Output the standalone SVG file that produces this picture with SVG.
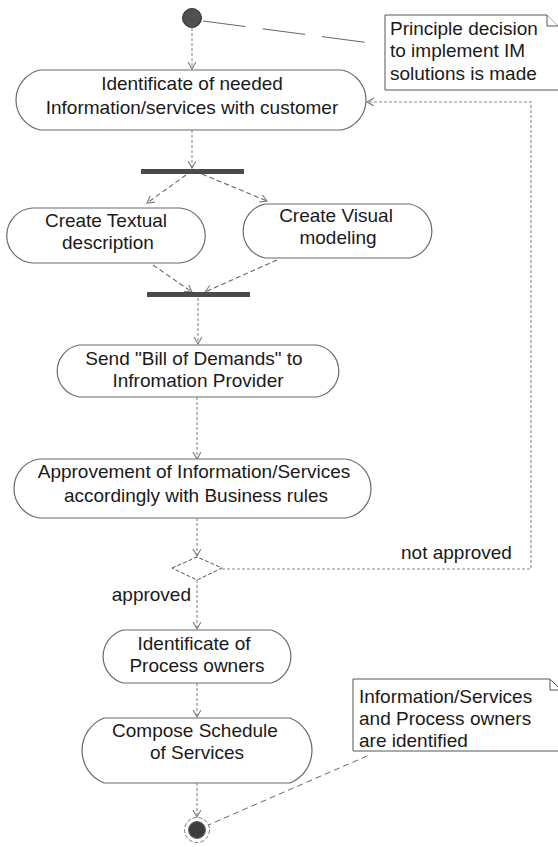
<svg xmlns="http://www.w3.org/2000/svg" width="558" height="847" viewBox="0 0 558 847">
<style>
  text { font-family: "Liberation Sans", Arial, sans-serif; font-size: 19px; fill: #1a1a1a; }
  .c { text-anchor: middle; }
  .act { fill: #fff; stroke: #6a6a6a; stroke-width: 1.2; }
  .bar { fill: #4a4a4a; }
  .note { fill: #fff; stroke: #555; stroke-width: 1; }
  .flow { fill: none; stroke: #8a8a8a; stroke-width: 1.1; stroke-dasharray: 3 2; }
  .dash { fill: none; stroke: #666; stroke-width: 1.1; stroke-dasharray: 5 3; }
  .anchor { fill: none; stroke: #666; stroke-width: 1; }
</style>
<defs>
  <marker id="arr" markerUnits="userSpaceOnUse" markerWidth="10" markerHeight="10" refX="7" refY="4" orient="auto">
    <path d="M0,0 L7,4 L0,8" fill="none" stroke="#777" stroke-width="1.1"/>
  </marker>
</defs>

<g id="connectors">
  <path class="flow" d="M192,28 V69" marker-end="url(#arr)"/>
  <path class="flow" d="M192,130 V168" marker-end="url(#arr)"/>
  <path class="dash" d="M186,175 L147,203" marker-end="url(#arr)"/>
  <path class="dash" d="M202,174 L267,201" marker-end="url(#arr)"/>
  <path class="dash" d="M153,265 L192,292" marker-end="url(#arr)"/>
  <path class="dash" d="M277,260 L205,292" marker-end="url(#arr)"/>
  <path class="flow" d="M198,298 V344" marker-end="url(#arr)"/>
  <path class="flow" d="M197,397 V459" marker-end="url(#arr)"/>
  <path class="flow" d="M197,518 V556" marker-end="url(#arr)"/>
  <path class="flow" d="M197,580 V629" marker-end="url(#arr)"/>
  <path class="flow" d="M197,683 V717" marker-end="url(#arr)"/>
  <path class="flow" d="M197,783 V817" marker-end="url(#arr)"/>
  <path class="flow" d="M222,569 H531 V102 H367" marker-end="url(#arr)"/>
  <text x="401" y="559">not approved</text>
  <text x="191" y="601" text-anchor="end">approved</text>
  <path class="anchor" d="M203,21 L378,44" stroke-dasharray="43 17"/>
  <path class="anchor" d="M367,756 L206,826" stroke-dasharray="6 4"/>
</g>

<g id="start">
  <circle cx="192" cy="18" r="9.5" fill="#505050" stroke="#333" stroke-width="1"/>
</g>

<g id="note1">
  <path class="note" d="M385,15 H547 L560,28 V90 H385 Z"/>
  <path class="note" d="M547,15 V26 H558" fill="none"/>
  <text x="390" y="35">Principle decision</text>
  <text x="390" y="57">to implement IM</text>
  <text x="390" y="80">solutions is made</text>
</g>

<g id="identify">
  <path class="act" d="M40,70 H342 A30.75 30.75 0 0 1 342,130 H40 A30.75 30.75 0 0 1 40,70 Z"/>
  <text class="c" x="192" y="90">Identificate of needed</text>
  <text class="c" x="192" y="114">Information/services with customer</text>
</g>

<g id="fork">
  <rect class="bar" x="141" y="169" width="103" height="5"/>
</g>

<g id="textual">
  <path class="act" d="M32,208 H180 A27.6 27.6 0 0 1 180,263 H32 A27.6 27.6 0 0 1 32,208 Z"/>
  <text class="c" x="106" y="227">Create Textual</text>
  <text class="c" x="108" y="249">description</text>
</g>

<g id="visual">
  <path class="act" d="M265,204 H410 A27.6 27.6 0 0 1 410,258 H265 A27.6 27.6 0 0 1 265,204 Z"/>
  <text class="c" x="336" y="222">Create Visual</text>
  <text class="c" x="338" y="244">modeling</text>
</g>

<g id="join">
  <rect class="bar" x="147" y="292" width="103" height="5"/>
</g>

<g id="send">
  <path class="act" d="M79,345 H317 A26.4 26.4 0 0 1 317,397 H79 A26.4 26.4 0 0 1 79,345 Z"/>
  <text class="c" x="194" y="365">Send "Bill of Demands" to</text>
  <text class="c" x="198" y="387">Infromation Provider</text>
</g>

<g id="approve">
  <path class="act" d="M39,459 H346 A29.9 29.9 0 0 1 346,518 H39 A29.9 29.9 0 0 1 39,459 Z"/>
  <text class="c" x="194" y="478">Approvement of Information/Services</text>
  <text class="c" x="196" y="502">accordingly with Business rules</text>
</g>

<g id="decision">
  <path d="M172,568 L197,557 L222,568 L197,580 Z" fill="#fff" stroke="#555" stroke-width="1" stroke-dasharray="4 2"/>
</g>

<g id="owners">
  <path class="act" d="M123,630 H271 A27.6 27.6 0 0 1 271,683 H123 A27.6 27.6 0 0 1 123,630 Z"/>
  <text class="c" x="194" y="650">Identificate of</text>
  <text class="c" x="197" y="672">Process owners</text>
</g>

<g id="schedule">
  <path class="act" d="M104,718 H290 A35 35 0 0 1 290,783 H104 A35 35 0 0 1 104,718 Z"/>
  <text class="c" x="195" y="737">Compose Schedule</text>
  <text class="c" x="197" y="759">of Services</text>
</g>

<g id="end">
  <circle cx="197" cy="830" r="12.5" fill="#fff" stroke="#777" stroke-width="1" stroke-dasharray="4 2"/>
  <circle cx="197" cy="830" r="8.5" fill="#3c3c3c" stroke="#666" stroke-width="1"/>
</g>

<g id="note2">
  <path class="note" d="M353,679 H550 L560,689 V751 H353 Z"/>
  <path class="note" d="M550,679 V690 H558" fill="none"/>
  <text x="359" y="703">Information/Services</text>
  <text x="359" y="725">and Process owners</text>
  <text x="359" y="747">are identified</text>
</g>
</svg>
